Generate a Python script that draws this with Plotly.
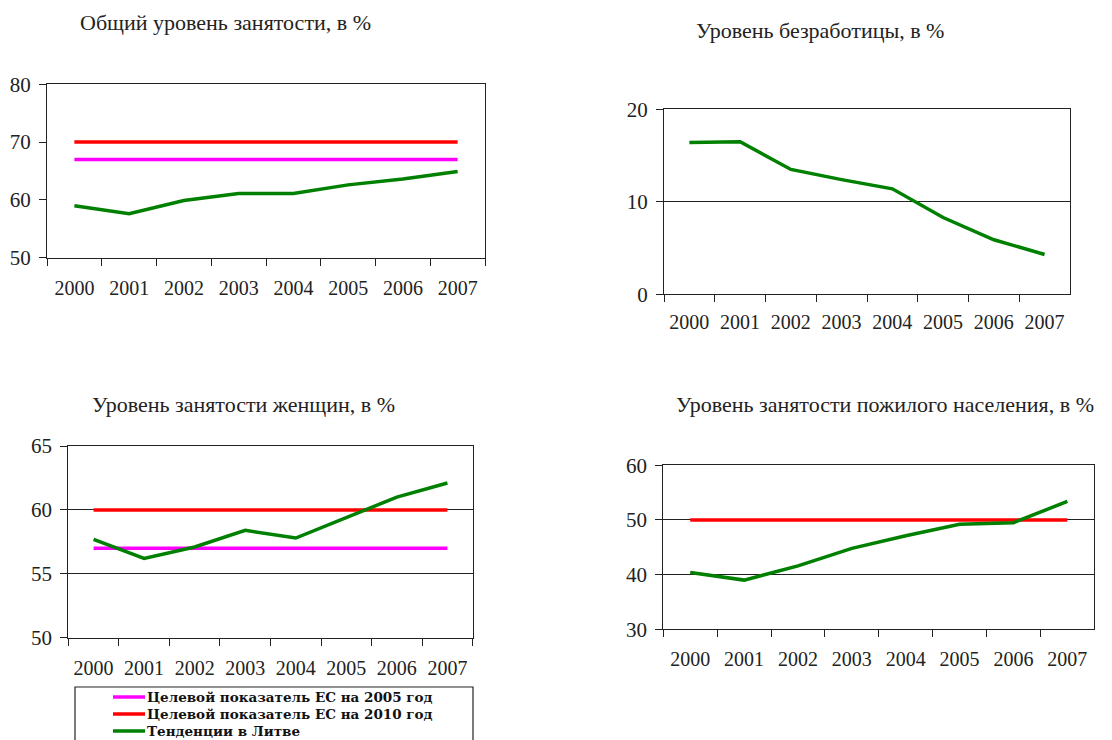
import plotly.graph_objects as go

W, H = 1112, 740

years = ["2000", "2001", "2002", "2003", "2004", "2005", "2006", "2007"]

# общий уровень занятости
total_emp = [59.0, 57.6, 59.9, 61.1, 61.1, 62.6, 63.6, 64.9]
total_target_2005 = 67
total_target_2010 = 70

# уровень безработицы
unemp = [16.4, 16.5, 13.5, 12.4, 11.4, 8.3, 5.9, 4.3]

# занятость женщин
women_emp = [57.7, 56.2, 57.1, 58.4, 57.8, 59.4, 61.0, 62.1]
women_target_2005 = 57
women_target_2010 = 60

# занятость пожилого населения
older_emp = [40.4, 39.0, 41.6, 44.8, 47.1, 49.2, 49.5, 53.4]
older_target_2010 = 50

titles = ["Общий уровень занятости, в %", "Уровень безработицы, в %",
          "Уровень занятости женщин, в %", "Уровень занятости пожилого населения, в %"]
legend_names = ["Целевой показатель ЕС на 2005 год",
                "Целевой показатель ЕС на 2010 год",
                "Тенденции в Литве"]

GREEN = "#008000"
RED = "#FF0000"
MAGENTA = "#FF00FF"
SERIF = "Liberation Serif"

# the page body adds an 8px margin around the figure
PAGE_PAD = 8


def px_x(x):
    return (x - PAGE_PAD) / W


def px_y(y):
    return 1 - (y - PAGE_PAD) / H


# panel boxes in pixels: left, right, top, bottom
boxes = [(47, 485, 84.3, 257.7),
         (664, 1070, 109.3, 294.3),
         (68.3, 472.7, 446, 637.7),
         (663.3, 1094.3, 465.3, 629.3)]

fig = go.Figure()


def line(y, color, n):
    ax = "" if n == 1 else str(n)
    fig.add_trace(go.Scatter(x=years, y=y, mode="lines", xaxis="x" + ax, yaxis="y" + ax,
                             line=dict(color=color, width=3.5), showlegend=False,
                             hoverinfo="skip"))


line([total_target_2010] * len(years), RED, 1)
line([total_target_2005] * len(years), MAGENTA, 1)
line(total_emp, GREEN, 1)

line(unemp, GREEN, 2)

line([women_target_2010] * len(years), RED, 3)
line([women_target_2005] * len(years), MAGENTA, 3)
line(women_emp, GREEN, 3)

line([older_target_2010] * len(years), RED, 4)
line(older_emp, GREEN, 4)

yranges = [(50, 80, 10), (0, 20, 10), (50, 65, 5), (30, 60, 10)]
grids = [False, True, True, True]
standoffs = [12, 10, 12, 12]
layout = {}
for i, (l, r, t, b) in enumerate(boxes):
    n = "" if i == 0 else str(i + 1)
    lo, hi, dt = yranges[i]
    layout["xaxis" + n] = dict(
        domain=[px_x(l), px_x(r)], anchor="y" + n, type="category", automargin=False,
        range=[-0.5, 7.5], tickson="boundaries", ticks="outside", ticklen=7,
        tickcolor="#222", showline=True, linecolor="#222", linewidth=1, mirror=True,
        showgrid=False, ticklabelstandoff=standoffs[i],
        tickfont=dict(family=SERIF, size=20, color="#222"))
    layout["yaxis" + n] = dict(
        domain=[px_y(b), px_y(t)], anchor="x" + n, range=[lo, hi], dtick=dt,
        automargin=False, ticks="outside", ticklen=7, tickcolor="#222", showline=True,
        linecolor="#222", linewidth=1, mirror=True, zeroline=False,
        showgrid=grids[i], gridcolor="#222", gridwidth=1, ticklabelstandoff=4,
        tickfont=dict(family=SERIF, size=21, color="#222"))

title_pos = [(225, 22), (820, 30), (243, 405), (885, 405)]
annotations = []
for (x, y), txt in zip(title_pos, titles):
    annotations.append(dict(text=txt, x=px_x(x), y=px_y(y), xref="paper", yref="paper",
                            xanchor="center", yanchor="middle", showarrow=False,
                            font=dict(family=SERIF, size=22, color="#222")))

# legend drawn below the women panel
shapes = [dict(type="rect", xref="paper", yref="paper", x0=px_x(75), x1=px_x(473),
               y0=px_y(760), y1=px_y(687), line=dict(color="#222", width=1.2))]
leg_colors = [MAGENTA, RED, GREEN]
leg_y = [697, 714, 731]
for c, yy, name in zip(leg_colors, leg_y, legend_names):
    shapes.append(dict(type="line", xref="paper", yref="paper", x0=px_x(113), x1=px_x(145),
                       y0=px_y(yy), y1=px_y(yy), line=dict(color=c, width=3.5)))
    annotations.append(dict(text="<b>" + name + "</b>", x=px_x(146), y=px_y(yy),
                            xref="paper", yref="paper", xanchor="left", yanchor="middle",
                            showarrow=False, borderpad=0,
                            font=dict(family="DejaVu Serif", size=13.5, color="#111")))

fig.update_layout(width=W, height=H, margin=dict(l=0, r=0, t=0, b=0, autoexpand=False),
                  paper_bgcolor="white", plot_bgcolor="white", showlegend=False,
                  annotations=annotations, shapes=shapes, **layout)

fig.write_html("out.html")
